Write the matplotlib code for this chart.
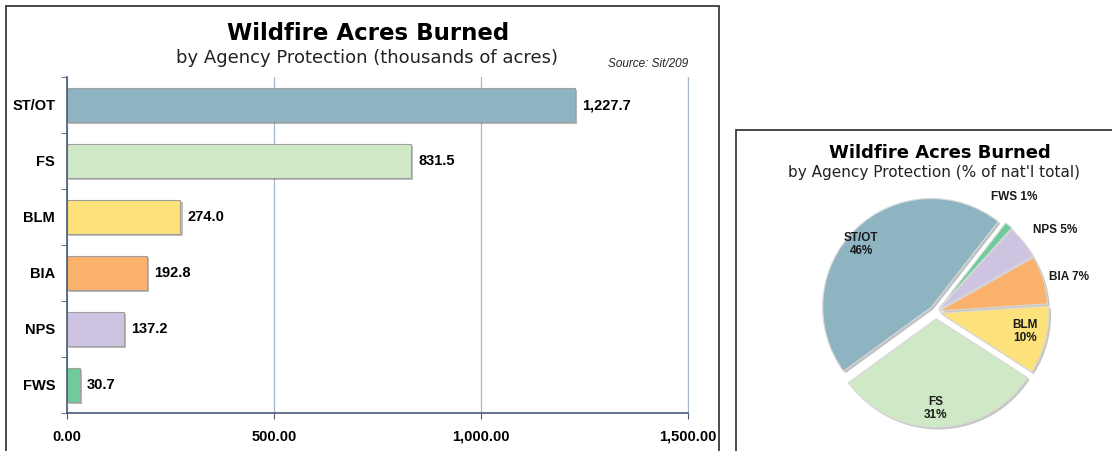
import numpy as np
import matplotlib.pyplot as plt
from matplotlib.patches import Rectangle
import matplotlib.patheffects as pe

# DATA SECTION------------------------------------------------------------------
agencies = ['ST/OT', 'FS', 'BLM', 'BIA', 'NPS', 'FWS']
acres = [1227.7, 831.5, 274.0, 192.8, 137.2, 30.7]          # thousands of acres
colors = ['#8fb4c1', '#cfe9c6', '#fde27c', '#f9b16c', '#cfc3e2', '#6fcb9b']
x_ticks = [0, 500, 1000, 1500]
x_ticklabels = ['0.00', '500.00', '1,000.00', '1,500.00']

pie_order = ['FWS', 'NPS', 'BIA', 'BLM', 'FS', 'ST/OT']
pie_pct = ['1%', '5%', '7%', '10%', '31%', '46%']

W, H = 1112, 451
fig = plt.figure(figsize=(W/100, H/100), dpi=100)
plt.rcParams['font.family'] = ['Liberation Sans', 'DejaVu Sans']

def fx(px): return px/W
def fy(py): return 1 - py/H

# panel frames
fig.patches.append(Rectangle((fx(6), fy(470)), fx(713), (464)/H, transform=fig.transFigure,
                             fill=False, edgecolor='#3a3a3a', linewidth=1.3))
fig.patches.append(Rectangle((fx(736), fy(470)), fx(400), (340)/H, transform=fig.transFigure,
                             fill=False, edgecolor='#3a3a3a', linewidth=1.3))

# BAR CHART SECTION-------------------------------------------------------------
ax = fig.add_axes([fx(67), fy(413), fx(688-67), (413-77)/H])
ypos = np.arange(len(agencies))
shadow = [pe.SimplePatchShadow(offset=(1.5, -1.5), alpha=0.35), pe.Normal()]
bars = ax.barh(ypos, acres, height=0.6, color=colors, edgecolor='#a0a0a0', linewidth=0.8)
for b in bars:
    b.set_path_effects(shadow)
for y, v in zip(ypos, acres):
    ax.text(v + 17, y, f'{v:,.1f}', va='center', ha='left', fontsize=10.5, fontweight='bold')

ax.set_ylim(len(agencies) - 0.5, -0.5)
ax.set_xlim(0, 1500)
ax.set_yticks(ypos)
ax.set_yticklabels(agencies, fontsize=10.5, fontweight='bold')
ax.set_yticks(np.arange(-0.5, len(agencies)), minor=True)
ax.tick_params(axis='y', which='major', length=0, pad=8.5)
ax.tick_params(axis='y', which='minor', length=4, color='#4a5a78')
ax.set_xticks(x_ticks)
ax.set_xticklabels(x_ticklabels, fontsize=10.5, fontweight='bold')
ax.tick_params(axis='x', length=4, color='#4a5a78', pad=8)
ax.xaxis.grid(True, color='#a9b7cc', linewidth=0.9)
ax.set_axisbelow(True)
for s in ['left', 'bottom']:
    ax.spines[s].set_color('#4a5a78')
    ax.spines[s].set_linewidth(1.2)
ax.spines['top'].set_visible(False)
ax.spines['right'].set_color('#a9b7cc')

fig.text(fx(368), fy(34), 'Wildfire Acres Burned', ha='center', va='center',
         fontsize=16.5, fontweight='bold', family='DejaVu Sans')
fig.text(fx(367), fy(58), 'by Agency Protection (thousands of acres)', ha='center',
         va='center', fontsize=13, color='#222222', family='DejaVu Sans')
fig.text(fx(648), fy(64), 'Source: Sit/209', ha='center', va='center',
         fontsize=8.5, style='italic', color='#222222')

# PIE CHART SECTION-------------------------------------------------------------
pie_vals = [acres[agencies.index(a)] for a in pie_order]
pie_cols = [colors[agencies.index(a)] for a in pie_order]
explode = [0.04, 0.03, 0.03, 0.04, 0.06, 0.06]

S = 280
axp = fig.add_axes([fx(936 - S/2), fy(312 + S/2), fx(S), S/H])
wedges, _ = axp.pie(pie_vals, colors=pie_cols, startangle=52, counterclock=False,
                    explode=explode, radius=0.97,
                    wedgeprops=dict(edgecolor='#d8d8d8', linewidth=0.8))
for w in wedges:
    w.set_path_effects([pe.SimplePatchShadow(offset=(1.5, -1.5), alpha=0.3), pe.Normal()])
axp.set_xlim(-1.25, 1.25)
axp.set_ylim(-1.25, 1.25)
axp.set_aspect('equal')
axp.axis('off')

label_dist = [1.24, 1.29, 1.23, 0.81, 0.86, 0.9]
label_shift = [6, -4, -2, 2, -2, 4]
inside = ['BLM', 'FS', 'ST/OT']
for w, name, pct, d, sh in zip(wedges, pie_order, pie_pct, label_dist, label_shift):
    ang = np.deg2rad((w.theta1 + w.theta2)/2 + sh)
    txt = f'{name}\n{pct}' if name in inside else f'{name} {pct}'
    axp.text(d*np.cos(ang), d*np.sin(ang), txt, ha='center', va='center',
             fontsize=8.5, fontweight='bold', color='#1a1a1a', linespacing=1.1)

fig.text(fx(940), fy(153), 'Wildfire Acres Burned', ha='center', va='center',
         fontsize=13, fontweight='bold', family='DejaVu Sans')
fig.text(fx(934), fy(173), "by Agency Protection (% of nat'l total)", ha='center',
         va='center', fontsize=11, color='#222222', family='DejaVu Sans')

fig.savefig('out.png', dpi=100)
